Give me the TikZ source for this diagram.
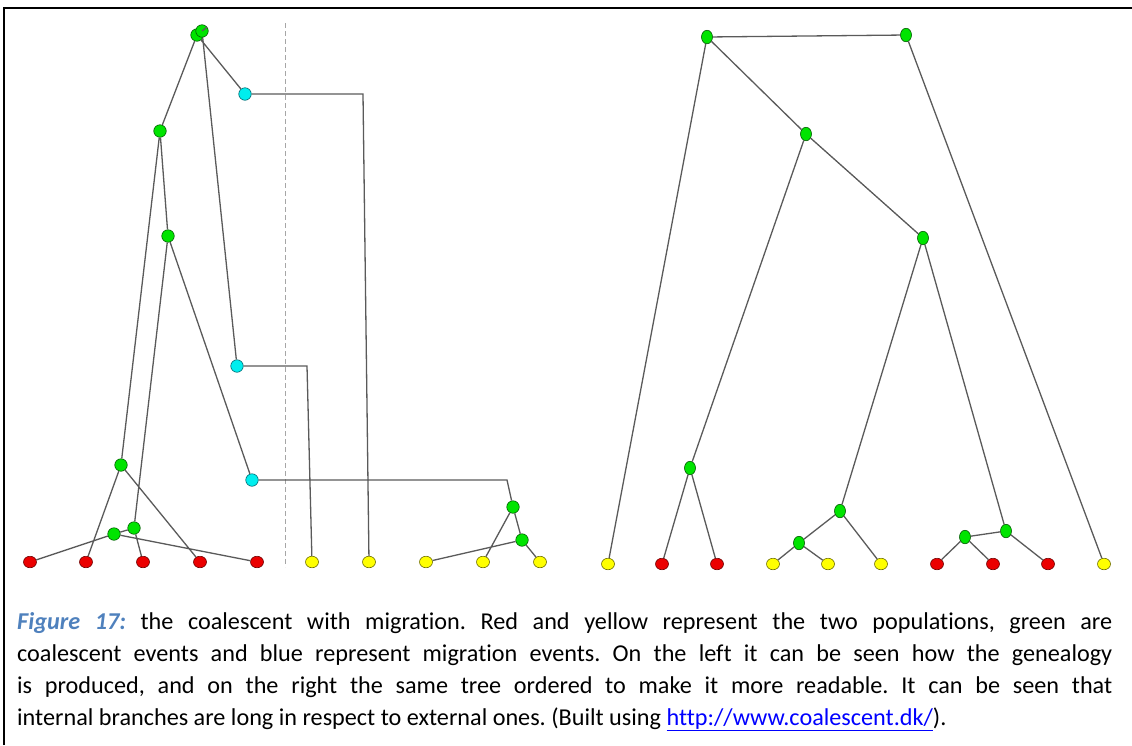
\documentclass[tikz,border=0pt]{standalone}
\usepackage{fontspec}
\setmainfont[Ligatures={NoCommon}]{Carlito}
\usetikzlibrary{shapes.geometric}
\definecolor{capblue}{HTML}{4F81BD}
\definecolor{linkblue}{HTML}{0000FF}
\definecolor{branchgray}{HTML}{5A5A5A}
\tikzstyle{event}=[ellipse, draw, line width=0.6pt, inner sep=0pt, minimum width=12.5pt, minimum height=12.5pt]
\tikzstyle{coal}=[event, fill={rgb,255:red,0;green,228;blue,0}, draw={rgb,255:red,0;green,90;blue,0}]
\tikzstyle{mig}=[event, fill={rgb,255:red,0;green,238;blue,238}, draw={rgb,255:red,0;green,100;blue,110}]
\tikzstyle{popa}=[event, minimum width=13pt, minimum height=11.5pt, fill={rgb,255:red,235;green,0;blue,0}, draw={rgb,255:red,110;green,0;blue,0}]
\tikzstyle{popb}=[event, minimum width=13pt, minimum height=11.5pt, fill={rgb,255:red,255;green,255;blue,0}, draw={rgb,255:red,110;green,110;blue,0}]
\tikzstyle{tall}=[minimum width=11pt, minimum height=13.5pt]
\tikzstyle{branch}=[draw=branchgray, line width=1.3pt]

\begin{document}
\begin{tikzpicture}[x=1pt, y=-1pt]
\useasboundingbox (0,0) rectangle (1132,745);
\draw[line width=2.5pt] (4,745) -- (4,8) -- (1132,8);
% border between the two populations
\draw[gray!70, line width=1pt, dash pattern=on 5pt off 3pt] (285,23) -- (285,567);

% left: how the genealogy is produced
\node[coal] (r2) at (197,35) {};
\node[coal] (r1) at (202,31) {};
\node[coal] (ga) at (160,131) {};
\node[coal] (gb) at (168,236) {};
\node[coal] (gc) at (121,465) {};
\node[coal] (gd) at (134,528) {};
\node[coal] (ge) at (114,534) {};
\node[coal] (gf) at (513,507) {};
\node[coal] (gg) at (522,540) {};
\node[mig] (m1) at (245,94) {};
\node[mig] (m2) at (237,366) {};
\node[mig] (m3) at (252,480) {};
\coordinate (c1) at (363,94);
\coordinate (c2) at (307,366);
\coordinate (c3) at (507,480);
\node[popa] (a1) at (30,562) {};
\node[popa] (a2) at (86,562) {};
\node[popa] (a3) at (143,562) {};
\node[popa] (a4) at (200,562) {};
\node[popa] (a5) at (257,562) {};
\node[popb] (b1) at (312,562) {};
\node[popb] (b2) at (369,562) {};
\node[popb] (b3) at (426,562) {};
\node[popb] (b4) at (483,562) {};
\node[popb] (b5) at (540,562) {};
\draw[branch] (r1)--(r2) (r2)--(ga) (r2)--(m1) (r1)--(m2)
  (ga)--(gc) (ga)--(gb) (gb)--(gd) (gb)--(m3)
  (gc)--(a2) (gc)--(a4) (gd)--(a3) (gd)--(ge) (ge)--(a1) (ge)--(a5)
  (m1)--(c1)--(b2) (m2)--(c2)--(b1) (m3)--(c3)--(gf)
  (gf)--(gg) (gf)--(b4) (gg)--(b3) (gg)--(b5);

% right: the same tree, ordered
\node[coal, tall] (t1) at (707,37) {};
\node[coal, tall] (t2) at (906,35) {};
\node[coal, tall] (t3) at (806,134) {};
\node[coal, tall] (t4) at (923,238) {};
\node[coal, tall] (t5) at (690,468) {};
\node[coal, tall] (t6) at (840,511) {};
\node[coal, tall] (t7) at (799,543) {};
\node[coal, tall] (t8) at (1006,531) {};
\node[coal, tall] (t9) at (965,537) {};
\node[popb] (s1) at (608,564) {};
\node[popa] (s2) at (662,564) {};
\node[popa] (s3) at (717,564) {};
\node[popb] (s4) at (773,564) {};
\node[popb] (s5) at (828,564) {};
\node[popb] (s6) at (881,564) {};
\node[popa] (s7) at (937,564) {};
\node[popa] (s8) at (993,564) {};
\node[popa] (s9) at (1048,564) {};
\node[popb] (s10) at (1104,564) {};
\draw[branch] (t1)--(t2) (t1)--(s1) (t1)--(t3) (t2)--(s10)
  (t3)--(t5) (t3)--(t4) (t5)--(s2) (t5)--(s3)
  (t4)--(t6) (t4)--(t8) (t6)--(t7) (t6)--(s6) (t7)--(s4) (t7)--(s5)
  (t8)--(t9) (t8)--(s9) (t9)--(s7) (t9)--(s8);

% caption
\node[anchor=base west, inner sep=0pt, text width=1095pt, align=justify,
  font=\fontsize{24.2}{32}\selectfont\frenchspacing] (cap) at (17,629)
  {\textcolor{capblue}{\textbf{\textit{Figure 17:}}} the coalescent with migration. Red and yellow represent the two populations, green are\linebreak
  coalescent events and blue represent migration events. On the left it can be seen how the genealogy\linebreak
  is produced, and on the right the same tree ordered to make it more readable. It can be seen that\linebreak
  internal branches are long in respect to external ones. (Built using \textcolor{linkblue}{\underline{http://www.coalescent.dk/}}).};
\end{tikzpicture}
\end{document}
